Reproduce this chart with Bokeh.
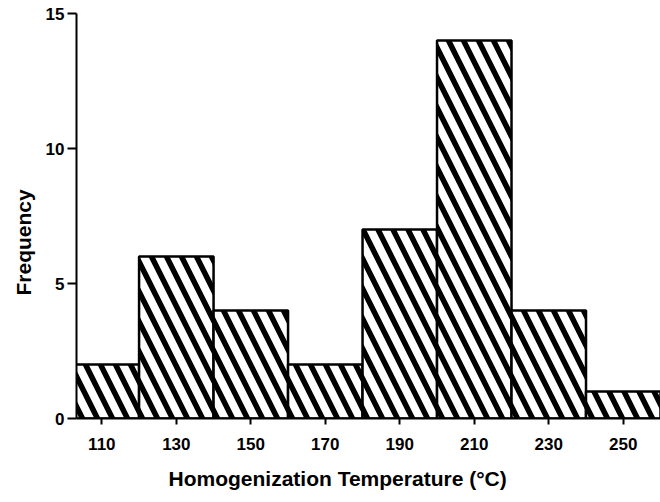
from bokeh.plotting import figure
from bokeh.models import Title, FixedTicker
from bokeh.embed import file_html
from bokeh.resources import INLINE

# Histogram data (homogenization temperature bins, °C)
bin_left = [100, 120, 140, 160, 180, 200, 220, 240]
bin_right = [120, 140, 160, 180, 200, 220, 240, 260]
counts = [2, 6, 4, 2, 7, 14, 4, 1]
x_ticks = [110, 130, 150, 170, 190, 210, 230, 250]
y_ticks = [0, 5, 10, 15]
x_title = "Homogenization Temperature (°C)"
y_title = "Frequency"

FONT = "Liberation Sans"

p = figure(width=660, height=502, x_range=(103.2, 260), y_range=(0, 15),
           output_backend="svg", toolbar_location=None,
           min_border_left=76, min_border_right=0,
           min_border_top=13, min_border_bottom=84)

p.quad(left=bin_left, right=bin_right, bottom=0, top=counts,
       fill_color="white", line_color="black", line_width=2.5,
       hatch_pattern="\\", hatch_color="black", hatch_scale=30, hatch_weight=5.5)

p.grid.visible = False
p.outline_line_color = None
p.background_fill_color = "white"
p.border_fill_color = "white"

for ax in (p.xaxis[0], p.yaxis[0]):
    ax.axis_line_color = "black"
    ax.axis_line_width = 2
    ax.major_tick_line_color = "black"
    ax.major_tick_line_width = 2
    ax.major_tick_in = 0
    ax.minor_tick_line_color = None
    ax.major_label_text_font = FONT
    ax.major_label_text_font_style = "bold"
    ax.major_label_text_font_size = "17px"
    ax.major_label_text_color = "black"

p.xaxis.ticker = FixedTicker(ticks=x_ticks)
p.yaxis.ticker = FixedTicker(ticks=y_ticks)
p.xaxis.major_tick_out = 6
p.xaxis.major_label_standoff = 13
p.yaxis.major_tick_out = 9
p.yaxis.major_label_standoff = 3

p.add_layout(Title(text=x_title, align="left", offset=92, standoff=25,
                   text_font=FONT, text_font_style="bold",
                   text_font_size="21px", text_color="black"), "below")
p.add_layout(Title(text=y_title, align="left", offset=123, standoff=16,
                   text_font=FONT, text_font_style="bold",
                   text_font_size="21px", text_color="black"), "left")

open("out.html", "w").write(file_html(p, INLINE))
